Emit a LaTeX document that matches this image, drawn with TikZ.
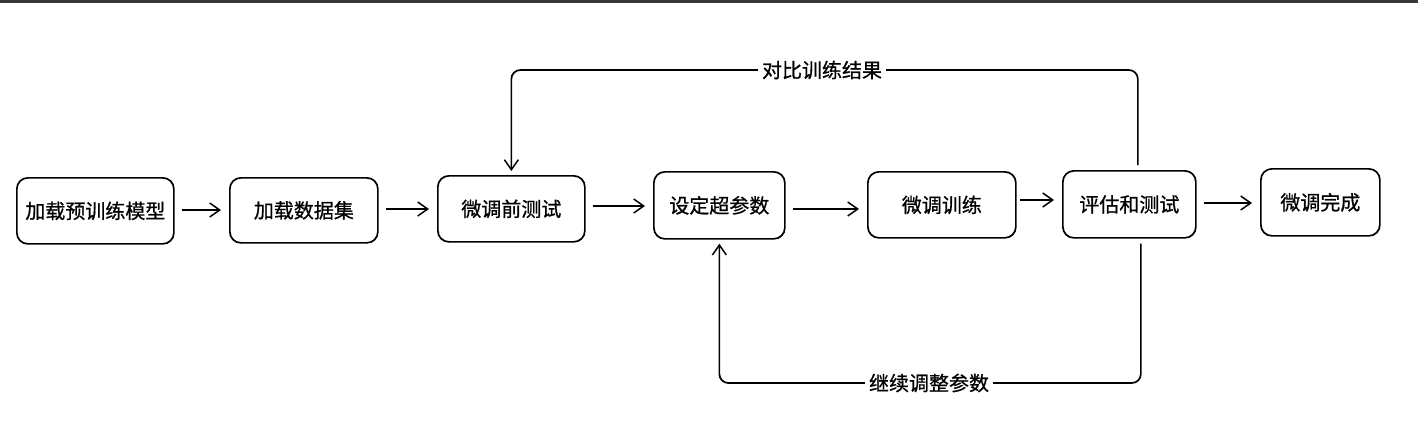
\documentclass[tikz,border=0pt]{standalone}
\usepackage{fontspec}
\newfontfamily\cjk[FakeBold=0.8]{Noto Sans CJK SC}
\usetikzlibrary{arrows.meta}
\begin{document}
\begin{tikzpicture}[x=1pt,y=-1pt,
  box/.style={draw, line width=1.7pt, rounded corners=11pt, font=\cjk\fontsize{20}{22}\selectfont, inner sep=0pt, anchor=north west},
  arr/.style={line width=1.7pt, -{Straight Barb[length=10pt,width=14pt,line width=1.5pt]}},
  flow/.style={arr, shorten <=7pt, shorten >=8pt},
  loop/.style={arr, rounded corners=9pt},
  lbl/.style={fill=white, inner sep=4pt, font=\cjk\fontsize{20}{22}\selectfont}]
\useasboundingbox (0,0) rectangle (1418,424);
\fill[black!78] (0,0) rectangle (1418,3);
\node[box, minimum width=157pt, minimum height=66pt] (b1) at (16,177) {加载预训练模型};
\node[box, minimum width=148pt, minimum height=65pt] (b2) at (229,177) {加载数据集};
\node[box, minimum width=147pt, minimum height=66pt] (b3) at (437,175) {微调前测试};
\node[box, minimum width=131pt, minimum height=67pt] (b4) at (653,171) {设定超参数};
\node[box, minimum width=148pt, minimum height=66pt] (b5) at (867,171) {微调训练};
\node[box, minimum width=133pt, minimum height=67pt] (b6) at (1062,170) {评估和测试};
\node[box, minimum width=119pt, minimum height=67pt] (b7) at (1260,168) {微调完成};
\draw[flow] (b1.east |- 0,210) -- (b2.west |- 0,210);
\draw[flow] (b2.east |- 0,209) -- (b3.west |- 0,209);
\draw[flow] (b3.east |- 0,206) -- (b4.west |- 0,206);
\draw[flow] (b4.east |- 0,209) -- (b5.west |- 0,209);
\draw[flow, shorten <=3pt] (b5.east |- 0,200) -- (b6.west |- 0,200);
\draw[flow] (b6.east |- 0,203) -- (b7.west |- 0,203);
\coordinate (t) at (0,70);
\coordinate (u) at (0,383);
\coordinate (s1) at ([xshift=8.5pt]b6.north);
\coordinate (s2) at ([xshift=11.5pt]b6.south);
\draw[loop, shorten <=5pt, shorten >=4pt] (s1) -- (s1 |- t) -| (b3.north);
\draw[loop, shorten <=5pt, shorten >=4pt] (s2) -- (s2 |- u) -| (b4.south);
\node[lbl] (l1) at (822,70) {对比训练结果};
\node[lbl] (l2) at (929,383) {继续调整参数};
\end{tikzpicture}
\end{document}
